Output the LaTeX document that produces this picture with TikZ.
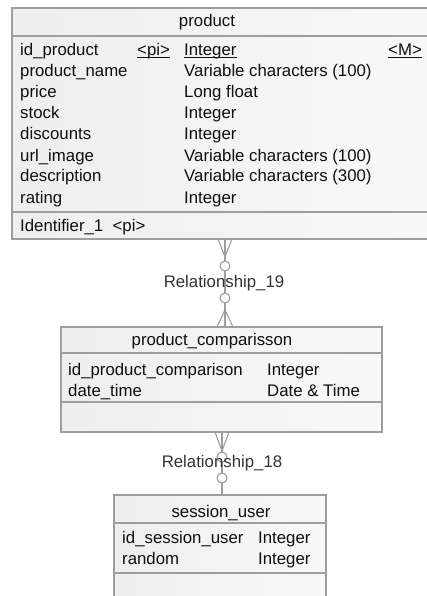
\documentclass[tikz,border=0pt]{standalone}
\usepackage{fontspec}
\setmainfont{Liberation Sans}
\usepackage{xcolor}
\definecolor{frame}{rgb}{0.62,0.62,0.62}
\definecolor{boxleft}{rgb}{0.935,0.935,0.935}
\definecolor{boxright}{rgb}{0.975,0.975,0.975}
\definecolor{ink}{rgb}{0.06,0.06,0.06}
\definecolor{relink}{rgb}{0.2,0.2,0.2}
\usetikzlibrary{positioning}
\newcommand{\pdul}[1]{\setbox0\hbox{#1}\rlap{\color{ink}\vrule width\wd0 height -1.4pt depth 2.5pt}\box0}
\tikzset{
	entity/.style={left color=boxleft, right color=boxright, draw=frame, line width=1.3pt},
	sep/.style={draw=frame, line width=1.3pt},
	txt/.style={anchor=base west, inner sep=0pt, text=ink, font=\fontsize{16.8}{20}\selectfont},
	title/.style={anchor=base, inner sep=0pt, text=ink, font=\fontsize{16.8}{20}\selectfont},
	rellabel/.style={anchor=center, inner sep=0pt, text=relink, font=\fontsize{16.8}{20}\selectfont},
	link/.style={draw=frame, line width=1.1pt},
	optcircle/.style={circle, draw=frame, fill=white, line width=1.1pt, minimum size=10pt, inner sep=0pt}
}

\begin{document}
\begin{tikzpicture}[x=1pt, y=-1pt]
	\useasboundingbox (0,0) rectangle (427,596);
	\clip (0,0) rectangle (427,596);
	\fill[white] (0,0) rectangle (427,596);

	% product
	\filldraw[entity] (12,8) rectangle (440,239);
	\draw[sep] (12,36) -- (440,36);
	\draw[sep] (12,212) -- (440,212);
	\node[title] (prodtitle) at (207,27) {product};
	\node[txt] (prodid) at (20,56) {id\_product};
	\node[txt] (prodidpi) at (137,56) {\pdul{<pi>}};
	\node[txt] (prodidtype) at (184,56) {\pdul{Integer}};
	\node[txt] (prodidM) at (388,56) {\pdul{<M>}};
	\node[txt] (prodname) at (20,77) {product\_name};
	\node[txt] (prodnametype) at (184,77) {Variable characters (100)};
	\node[txt] (prodprice) at (20,98) {price};
	\node[txt] (prodpricetype) at (184,98) {Long float};
	\node[txt] (prodstock) at (20,119) {stock};
	\node[txt] (prodstocktype) at (184,119) {Integer};
	\node[txt] (proddisc) at (20,140) {discounts};
	\node[txt] (proddisctype) at (184,140) {Integer};
	\node[txt] (produrl) at (20,161) {url\_image};
	\node[txt] (produrltype) at (184,161) {Variable characters (100)};
	\node[txt] (proddesc) at (20,182) {description};
	\node[txt] (proddesctype) at (184,182) {Variable characters (300)};
	\node[txt] (prodrating) at (20,203) {rating};
	\node[txt] (prodratingtype) at (184,203) {Integer};
	\node[txt] (prodident) at (20,231) {Identifier\_1\ \ <pi>};

	% product_comparisson
	\filldraw[entity] (61,327) rectangle (382,432);
	\draw[sep] (61,353) -- (382,353);
	\draw[sep] (61,402) -- (382,402);
	\node[title] (comptitle) at (212,345) {product\_comparisson};
	\node[txt] (compid) at (68,375) {id\_product\_comparison};
	\node[txt] (compidtype) at (267,375) {Integer};
	\node[txt] (compdate) at (68,396) {date\_time};
	\node[txt] (compdatetype) at (267,396) {Date \& Time};

	% session_user
	\filldraw[entity] (114,495) rectangle (326,620);
	\draw[sep] (114,523) -- (326,523);
	\draw[sep] (114,573) -- (326,573);
	\node[title] (sesstitle) at (221,517) {session\_user};
	\node[txt] (sessid) at (122,543) {id\_session\_user};
	\node[txt] (sessidtype) at (258,543) {Integer};
	\node[txt] (sessrandom) at (122,564) {random};
	\node[txt] (sessrandomtype) at (258,564) {Integer};

	% Relationship_19
	\coordinate (r19top) at (225,239);
	\coordinate (r19topfoot) at (225,257);
	\coordinate (r19bot) at (225,327);
	\coordinate (r19botfoot) at (225,310);
	\draw[link] (r19top) -- (r19bot);
	\draw[link] (r19topfoot) -- ++(-7,-18) (r19topfoot) -- ++(7,-18);
	\draw[link] (r19botfoot) -- ++(-8,17) (r19botfoot) -- ++(8,17);
	\node[optcircle] (c19top) at (225,266) {};
	\node[optcircle] (c19bot) at (225,298) {};
	\node[rellabel] (rel19) at (224,283) {Relationship\_19};

	% Relationship_18
	\coordinate (r18top) at (222,432);
	\coordinate (r18topfoot) at (222,451);
	\coordinate (r18bot) at (222,495);
	\draw[link] (r18top) -- (r18bot);
	\draw[link] (r18topfoot) -- ++(-7,-19) (r18topfoot) -- ++(7,-19);
	\node[optcircle] (c18top) at (222,457) {};
	\node[optcircle] (c18bot) at (222,478) {};
	\node[rellabel] (rel18) at (222,463) {Relationship\_18};
\end{tikzpicture}
\end{document}
